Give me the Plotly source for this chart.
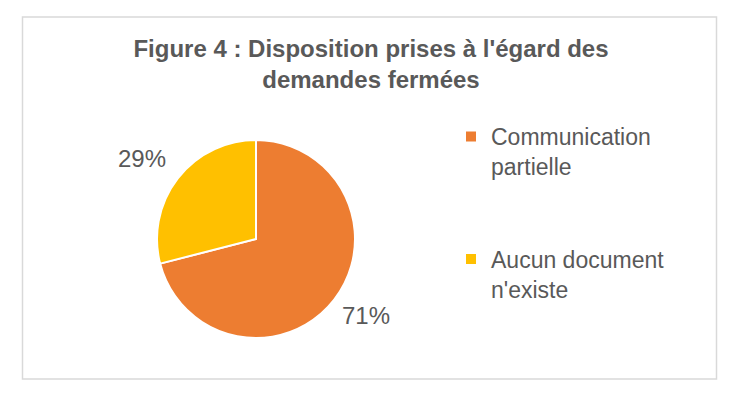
import math
import plotly.graph_objects as go

labels = ["Communication<br>partielle", "Aucun document<br>n'existe"]
values = [71, 29]
colors = ["#ED7D31", "#FFC000"]
title_text = "<b>Figure 4 : Disposition prises à l'égard des<br>demandes fermées</b>"

W, H = 738, 397
cx, cy, R = 256, 239, 99  # pie center/radius in pixels (layout)
FONT = "Arial, Liberation Sans, sans-serif"
TXT = "#595959"

# legend entries padded with blank lines to reproduce the spacing between items
legend_labels = [lab + "<br> <br> " for lab in labels]

fig = go.Figure(go.Pie(
    labels=legend_labels, values=values, sort=False, direction="clockwise", rotation=0,
    marker=dict(colors=colors, line=dict(color="white", width=2)),
    textinfo="none", hoverinfo="percent",
    domain=dict(x=[(cx - R) / W, (cx + R) / W], y=[(H - cy - R) / H, (H - cy + R) / H]),
))

# percent labels outside the slices, computed from the data
total = sum(values)
cum = 0
gap = 10
for v in values:
    mid = (cum + v / 2) / total * 2 * math.pi
    cum += v
    sx, sy = math.sin(mid), -math.cos(mid)
    px = cx + (R + gap) * sx
    py = cy + (R + gap) * sy
    fig.add_annotation(x=px / W, y=1 - py / H, xref="paper", yref="paper",
                       text=f"{v / total:.0%}", showarrow=False,
                       font=dict(family=FONT, size=24, color=TXT),
                       xanchor="left" if sx >= 0 else "right",
                       yanchor="top" if sy >= 0 else "bottom",
                       yshift=6 if sy >= 0 else -2, xshift=-2)

fig.add_shape(type="rect", xref="paper", yref="paper",
              x0=22.5 / W, x1=716.5 / W, y0=1 - 379 / H, y1=1 - 17 / H,
              line=dict(color="#D9D9D9", width=1.5), fillcolor="rgba(0,0,0,0)")

fig.update_layout(
    width=W, height=H, margin=dict(l=0, r=0, t=0, b=0),
    paper_bgcolor="white", plot_bgcolor="white",
    title=dict(text=title_text, x=371 / W, xanchor="center", y=1 - 57 / H, yanchor="middle",
               font=dict(family=FONT, size=24, color=TXT)),
    legend=dict(x=451 / W, xanchor="left", y=1 - 115 / H, yanchor="top",
                font=dict(family=FONT, size=23, color=TXT), valign="top",
                bgcolor="rgba(0,0,0,0)", tracegroupgap=0),
    showlegend=True,
)

fig.write_html("out.html", config={"displayModeBar": False},
               post_script="document.body.style.margin='0';")
